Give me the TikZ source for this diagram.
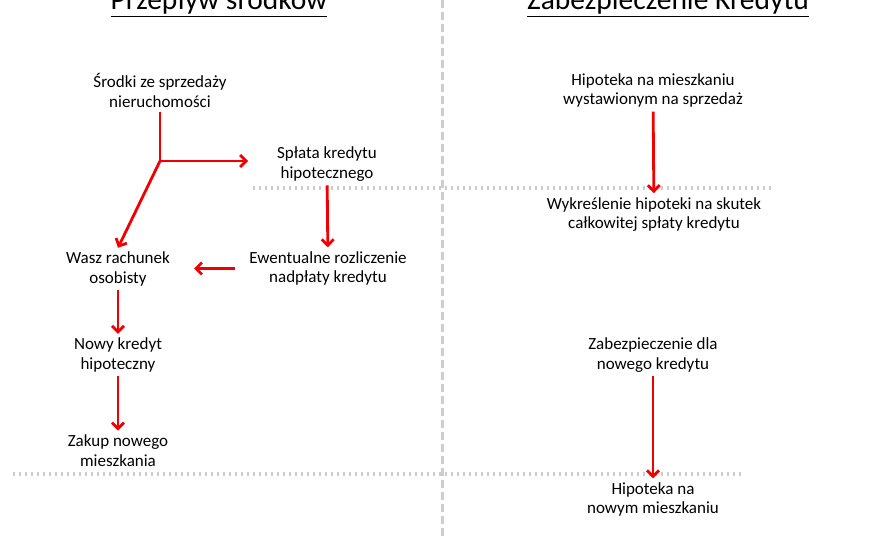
\documentclass[tikz,border=0pt]{standalone}
\usepackage{fontspec}
\setmainfont{Carlito}
\usetikzlibrary{arrows.meta}

\begin{document}
\begin{tikzpicture}[x=1pt,y=-1pt,
  txt/.style={align=center,inner sep=4pt,font=\fontsize{17}{19.5}\selectfont},
  hdr/.style={inner sep=0pt,font=\fontsize{29.5}{34}\selectfont},
  arr/.style={draw=red!95!black,line width=2.8pt,-{Straight Barb[length=6pt,width=12pt]}},
  redline/.style={draw=red!95!black,line width=2.8pt},
  sep/.style={draw=black!20,line width=3pt,dash pattern=on 8pt off 4pt},
  dots/.style={draw=black!20,line width=3.5pt,dash pattern=on 1.5pt off 4.5pt}]
  \clip (0,0) rectangle (880,540);
  \fill[white] (0,0) rectangle (880,540);

  % dividers
  \draw[sep] (442,0) -- (442,540);
  \draw[dots] (253,188) -- (775,188);
  \draw[dots] (13,474) -- (741,474);

  % headers
  \node[hdr,anchor=base] (h1) at (219,10) {\underline{Przepływ środków}};
  \node[hdr,anchor=base] (h2) at (668,10) {\underline{Zabezpieczenie Kredytu}};

  % left column
  \node[txt] (sale) at (160,90.5) {Środki ze sprzedaży\\nieruchomości};
  \node[txt] (repay) at (327,164) {Spłata kredytu\\hipotecznego};
  \node[txt] (over) at (328,268.5) {Ewentualne rozliczenie\\nadpłaty kredytu};
  \node[txt] (acct) at (118,269) {Wasz rachunek\\osobisty};
  \node[txt] (loan) at (118,355) {Nowy kredyt\\hipoteczny};
  \node[txt] (buy) at (118,450.5) {Zakup nowego\\mieszkania};

  % right column
  \node[txt] (mort) at (653,90.5) {Hipoteka na mieszkaniu\\wystawionym na sprzedaż};
  \node[txt] (del) at (654,214.5) {Wykreślenie hipoteki na skutek\\całkowitej spłaty kredytu};
  \node[txt] (sec) at (653,355) {Zabezpieczenie dla\\nowego kredytu};
  \node[txt] (newm) at (653,499.5) {Hipoteka na\\nowym mieszkaniu};

  \coordinate (fork) at (160,161);
  \coordinate (forkE) at (248,161);

  \draw[redline] (sale) -- (fork);
  \draw[arr] (fork) -- (forkE);
  \draw[arr] (fork) -- (acct.north);
  \draw[arr] (repay) -- (over);
  \draw[arr,shorten <=10pt,shorten >=20pt] (over.west) -- (acct.east |- over.west);
  \foreach \a/\b in {acct/loan,loan/buy,mort/del,sec/newm}
    \draw[arr] (\a) -- (\b);
\end{tikzpicture}
\end{document}
